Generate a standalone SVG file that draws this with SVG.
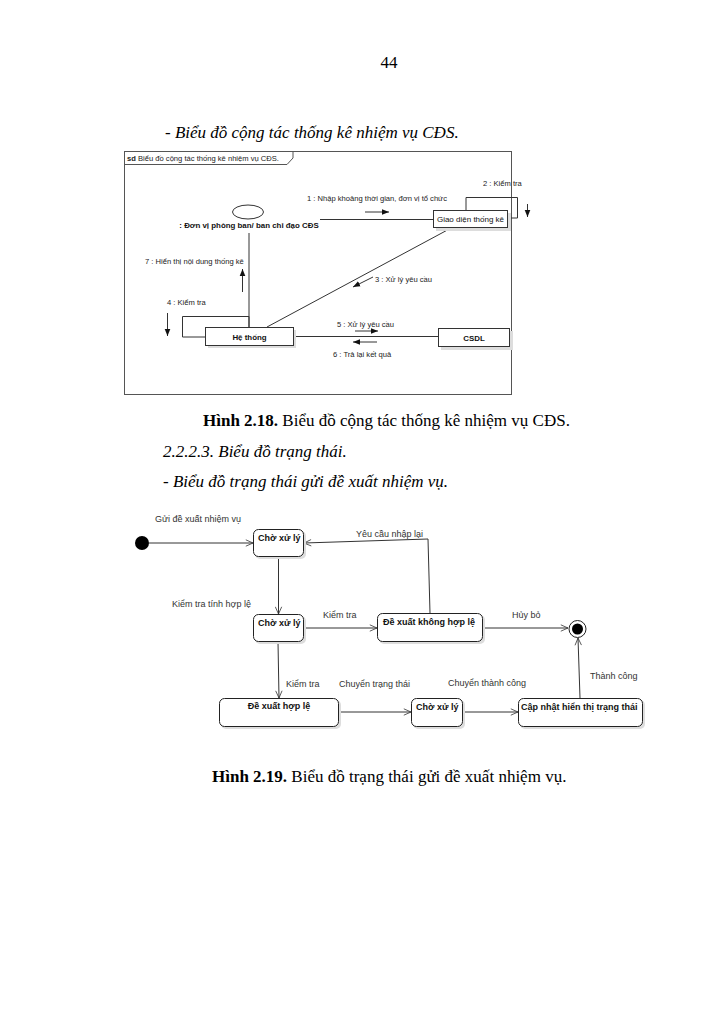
<svg xmlns="http://www.w3.org/2000/svg" width="723" height="1024" viewBox="0 0 723 1024">
<style>
.page{font-family:"Liberation Serif","Times New Roman",serif;font-size:17px;fill:#000}
.it{font-style:italic}
.b{font-weight:bold}
.c{font-family:"Liberation Sans",Arial,sans-serif;font-size:7.6px;fill:#222}
.cb{font-family:"Liberation Sans",Arial,sans-serif;font-size:7.9px;font-weight:bold;fill:#111}
.cn{font-family:"Liberation Sans",Arial,sans-serif;font-size:8px;fill:#111}
.s{font-family:"Liberation Sans",Arial,sans-serif;font-size:9px;fill:#333}
.sb{font-family:"Liberation Sans",Arial,sans-serif;font-size:9px;font-weight:bold;fill:#111}
.ln{stroke:#333;stroke-width:1;fill:none}
.box{fill:#fff;stroke:#333;stroke-width:1}
.sh{fill:#ddd}
.st{fill:#fff;stroke:#222;stroke-width:1}
</style>
<defs>
<marker id="fa" viewBox="0 0 10 10" refX="10" refY="5" markerWidth="7" markerHeight="7" markerUnits="userSpaceOnUse" orient="auto"><path d="M0,1 L10,5 L0,9 z" fill="#111"/></marker>
<marker id="oa" viewBox="0 0 10 10" refX="10" refY="5" markerWidth="8" markerHeight="8" markerUnits="userSpaceOnUse" orient="auto"><path d="M1,1 L10,5 L1,9" fill="none" stroke="#333" stroke-width="1"/></marker>
</defs>
<rect width="723" height="1024" fill="#fff"/>

<!-- page text -->
<text class="page" x="389" y="68" text-anchor="middle">44</text>
<text class="page it" x="165" y="138">- Biểu đồ cộng tác thống kê nhiệm vụ CĐS.</text>
<text class="page" x="203" y="426"><tspan class="b">Hình 2.18.</tspan> Biểu đồ cộng tác thống kê nhiệm vụ CĐS.</text>
<text class="page it" x="163" y="457">2.2.2.3. Biểu đồ trạng thái.</text>
<text class="page it" x="163" y="487">- Biểu đồ trạng thái gửi đề xuất nhiệm vụ.</text>
<text class="page" x="212" y="782"><tspan class="b">Hình 2.19.</tspan> Biểu đồ trạng thái gửi đề xuất nhiệm vụ.</text>

<!-- Figure 2.18: collaboration diagram -->
<g id="frame">
<rect x="124.5" y="151.5" width="387" height="243" fill="none" stroke="#555" stroke-width="1"/>
<path d="M124.5,164.5 L287,164.5 L293,158 L293,151.5" fill="none" stroke="#555" stroke-width="1"/>
<text class="c" x="127" y="161"><tspan font-weight="bold">sd</tspan> Biểu đồ cộng tác thống kê nhiệm vụ CĐS.</text>
</g>

<g id="connectors1">
<line class="ln" x1="249" y1="233" x2="249" y2="327"/>
<line class="ln" x1="320" y1="219.5" x2="433" y2="219.5"/>
<polyline class="ln" points="466,210 466,197.5 517.5,197.5 517.5,218 508,218"/>
<line class="ln" x1="453" y1="227" x2="267" y2="327"/>
<polyline class="ln" points="249,327 249,316.5 182.5,316.5 182.5,337 206,337"/>
<line class="ln" x1="293" y1="336.5" x2="438" y2="336.5"/>
<!-- message arrows -->
<line class="ln" x1="365" y1="212" x2="389" y2="212" marker-end="url(#fa)"/>
<line class="ln" x1="527.5" y1="204" x2="527.5" y2="217" marker-end="url(#fa)"/>
<line class="ln" x1="373" y1="277" x2="353" y2="287" marker-end="url(#fa)"/>
<line class="ln" x1="167.5" y1="313" x2="167.5" y2="336" marker-end="url(#fa)"/>
<line class="ln" x1="355" y1="331" x2="378" y2="331" marker-end="url(#fa)"/>
<line class="ln" x1="377" y1="342" x2="353" y2="342" marker-end="url(#fa)"/>
<line class="ln" x1="242.5" y1="292" x2="242.5" y2="269" marker-end="url(#fa)"/>
<text class="c" x="307" y="201">1 : Nhập khoảng thời gian, đơn vị tổ chức</text>
<text class="c" x="483" y="186">2 : Kiểm tra</text>
<text class="c" x="375" y="282">3 : Xử lý yêu cầu</text>
<text class="c" x="167" y="305">4 : Kiểm tra</text>
<text class="c" x="337" y="327">5 : Xử lý yêu cầu</text>
<text class="c" x="333" y="357">6 : Trả lại kết quả</text>
<text class="c" x="145" y="264">7 : Hiển thị nội dung thống kê</text>
</g>

<g id="actor">
<ellipse cx="248" cy="212" rx="15.5" ry="7" fill="#fff" stroke="#333" stroke-width="1"/>
<text class="cb" x="249" y="228" text-anchor="middle">: Đơn vị phòng ban/ ban chỉ đạo CĐS</text>
</g>

<g id="giaodien">
<rect class="sh" x="436" y="213" width="75" height="18"/>
<rect class="box" x="433.5" y="210.5" width="74" height="17"/>
<text class="cn" x="470.5" y="222" text-anchor="middle">Giao diện thống kê</text>
</g>

<g id="hethong">
<rect class="sh" x="208" y="330" width="88" height="18"/>
<rect class="box" x="205.5" y="327.5" width="88" height="18"/>
<text class="cb" x="249.5" y="339.5" text-anchor="middle">Hệ thống</text>
</g>

<g id="csdl">
<rect class="sh" x="441" y="331" width="72" height="19"/>
<rect class="box" x="438.5" y="328.5" width="71" height="18"/>
<text class="cb" x="474" y="340.5" text-anchor="middle">CSDL</text>
</g>

<!-- Figure 2.19: state diagram -->
<g id="connectors2">
<line class="ln" x1="149" y1="543" x2="253" y2="543" marker-end="url(#oa)"/>
<line class="ln" x1="278.5" y1="557" x2="278.5" y2="614" marker-end="url(#oa)"/>
<polyline class="ln" points="430,613 428,539 304,543" marker-end="url(#oa)"/>
<line class="ln" x1="304" y1="628" x2="377" y2="628" marker-end="url(#oa)"/>
<line class="ln" x1="483" y1="628" x2="568" y2="628" marker-end="url(#oa)"/>
<line class="ln" x1="278" y1="642" x2="279" y2="698" marker-end="url(#oa)"/>
<line class="ln" x1="339" y1="712" x2="411" y2="712" marker-end="url(#oa)"/>
<line class="ln" x1="463" y1="712" x2="518" y2="712" marker-end="url(#oa)"/>
<line class="ln" x1="580" y1="698" x2="578" y2="638" marker-end="url(#oa)"/>
<text class="s" x="155" y="522">Gửi đề xuất nhiệm vụ</text>
<text class="s" x="172" y="607">Kiểm tra tính hợp lệ</text>
<text class="s" x="356" y="537">Yêu cầu nhập lại</text>
<text class="s" x="323" y="618">Kiểm tra</text>
<text class="s" x="512" y="618">Hủy bỏ</text>
<text class="s" x="286" y="687">Kiểm tra</text>
<text class="s" x="339" y="687">Chuyển trạng thái</text>
<text class="s" x="448" y="686">Chuyển thành công</text>
<text class="s" x="590" y="679">Thành công</text>
</g>

<g id="initial">
<circle cx="142" cy="543" r="7" fill="#000"/>
</g>

<g id="cho1">
<rect class="sh" x="255" y="531" width="51" height="28" rx="5"/>
<rect class="st" x="253.5" y="529.5" width="50" height="27" rx="5"/>
<text class="sb" x="258" y="541">Chờ xử lý</text>
</g>

<g id="cho2">
<rect class="sh" x="255" y="616" width="51" height="28" rx="5"/>
<rect class="st" x="253.5" y="614.5" width="50" height="27" rx="5"/>
<text class="sb" x="258" y="626">Chờ xử lý</text>
</g>

<g id="khonghople">
<rect class="sh" x="379" y="615" width="106" height="29" rx="5"/>
<rect class="st" x="377.5" y="613.5" width="105" height="28" rx="5"/>
<text class="sb" x="383" y="625">Đề xuất không hợp lệ</text>
</g>

<g id="final">
<circle cx="577.5" cy="629" r="8.5" fill="#fff" stroke="#222" stroke-width="1"/>
<circle cx="577.5" cy="629" r="5.5" fill="#000"/>
</g>

<g id="hople">
<rect class="sh" x="221" y="700" width="120" height="29" rx="5"/>
<rect class="st" x="219.5" y="698.5" width="119" height="28" rx="5"/>
<text class="sb" x="279" y="709" text-anchor="middle">Đề xuất hợp lệ</text>
</g>

<g id="cho3">
<rect class="sh" x="413" y="700" width="52" height="29" rx="5"/>
<rect class="st" x="411.5" y="698.5" width="51" height="28" rx="5"/>
<text class="sb" x="416" y="710">Chờ xử lý</text>
</g>

<g id="capnhat">
<rect class="sh" x="520" y="700" width="125" height="29" rx="5"/>
<rect class="st" x="518.5" y="698.5" width="124" height="28" rx="5"/>
<text class="sb" x="521" y="710">Cập nhật hiển thị trạng thái</text>
</g>
</svg>
